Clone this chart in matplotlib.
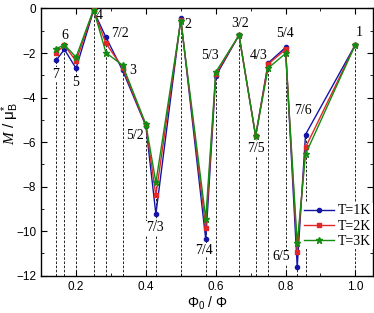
import matplotlib
matplotlib.use("Agg")
import matplotlib.pyplot as plt
from matplotlib.ticker import MultipleLocator

plt.rcParams["mathtext.fontset"] = "custom"
plt.rcParams["mathtext.rm"] = "Liberation Sans"
plt.rcParams["mathtext.it"] = "Liberation Serif:italic"
plt.rcParams["mathtext.sf"] = "Liberation Sans"

# flux fractions Phi0/Phi and the labels Phi/Phi0
x_vals = [1/7, 1/6, 1/5, 1/4, 2/7, 1/3, 2/5, 3/7, 1/2, 4/7, 3/5, 2/3, 5/7, 3/4, 4/5, 5/6, 6/7, 1.0]
m_1k = [-2.33, -1.84, -2.69, -0.10, -1.30, -2.78, -5.28, -9.23, -0.45, -10.37, -3.04, -1.20, -5.73, -2.45, -1.75, -11.60, -5.66, -1.62]
m_2k = [-1.99, -1.65, -2.37, -0.08, -1.57, -2.66, -5.25, -8.39, -0.50, -9.87, -2.95, -1.20, -5.73, -2.50, -1.84, -10.92, -6.24, -1.62]
m_3k = [-1.81, -1.63, -2.19, -0.05, -1.99, -2.55, -5.20, -7.81, -0.56, -9.43, -2.86, -1.20, -5.73, -2.68, -2.02, -10.55, -6.54, -1.62]

labels = ["7", "6", "5", "4", "7/2", "3", "5/2", "7/3", "2", "7/4", "5/3", "3/2", "7/5", "4/3", "5/4", "6/5", "7/6", "1"]
label_x = [0.141, 0.169, 0.200, 0.267, 0.326, 0.361, 0.369, 0.427, 0.521, 0.567, 0.582, 0.669, 0.714, 0.722, 0.798, 0.788, 0.850, 1.010]
label_y = [-2.95, -1.23, -3.34, -0.30, -1.11, -2.77, -5.69, -9.85, -0.70, -10.85, -2.13, -0.67, -6.28, -2.10, -1.12, -11.15, -4.56, -1.08]

fig = plt.figure(figsize=(3.74, 3.13), dpi=100)
ax = fig.add_axes([0.11, 0.119, 0.887, 0.854])

# dashed guides from the bottom up to each point
for x, a, b, c in zip(x_vals, m_1k, m_2k, m_3k):
    ax.plot([x, x], [-12, max(a, b, c)], color="black", ls=(0, (3, 2)), lw=0.6, zorder=1)

ax.plot(x_vals, m_1k, color="#1414a8", marker="o", ms=3, lw=1, label="T=1K", zorder=3)
ax.plot(x_vals, m_2k, color="#e02828", marker="s", ms=3, lw=1, label="T=2K", zorder=4)
ax.plot(x_vals, m_3k, color="#148c14", marker="*", ms=4.5, lw=1, label="T=3K", zorder=5)

for t, lx, ly in zip(labels, label_x, label_y):
    ax.text(lx, ly, t, ha="center", va="center", fontsize=10, family="Liberation Serif",
            bbox=dict(facecolor="white", edgecolor="none", pad=0.5), zorder=2)

ax.set_xlim(0.1, 1.05)
ax.set_ylim(-12, 0)
ax.xaxis.set_major_locator(MultipleLocator(0.2))
ax.xaxis.set_minor_locator(MultipleLocator(0.1))
ax.yaxis.set_major_locator(MultipleLocator(2))
ax.yaxis.set_minor_locator(MultipleLocator(1))
ax.tick_params(which="both", direction="in", top=True, right=True, labelsize=8.5)
ax.tick_params(which="major", length=4)
ax.tick_params(which="minor", length=2.5)
for lab in ax.get_xticklabels() + ax.get_yticklabels():
    lab.set_family("Liberation Sans")
for s in ax.spines.values():
    s.set_linewidth(1)

ax.set_xlabel(r"$\Phi_0$ / $\Phi$", fontsize=10, family="Liberation Sans")
ax.xaxis.set_label_coords(0.5, -0.07)
ax.set_ylabel(r"$M$ / $\mathrm{\mu}_{\mathrm{B}}^{*}$", fontsize=11, family="Liberation Sans")
ax.yaxis.set_label_coords(-0.06, 0.57)

leg = ax.legend(loc="lower right", bbox_to_anchor=(1.0, 0.10), frameon=True, handlelength=2.2,
                prop={"family": "Liberation Serif", "size": 10}, labelspacing=0.15, borderaxespad=0.0,
                handletextpad=0.3, borderpad=0.1, fancybox=False)
leg.get_frame().set_edgecolor("none")
leg.get_frame().set_facecolor("white")
leg.get_frame().set_alpha(1)

fig.savefig("out.png", dpi=100)
